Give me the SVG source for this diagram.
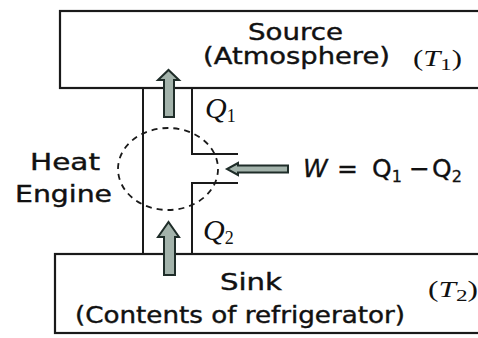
<svg xmlns="http://www.w3.org/2000/svg" width="478" height="338" viewBox="0 0 478 338">
<defs>
<style>
.box{fill:#fff;stroke:#1a1a1a;stroke-width:2.2}
.ln{fill:none;stroke:#1a1a1a;stroke-width:2}
.dash{fill:none;stroke:#1a1a1a;stroke-width:1.8;stroke-dasharray:6 5}
.arr{fill:#a3b3ab;stroke:#1f2d29;stroke-width:2;stroke-linejoin:miter}
.lbl{font-family:"DejaVu Sans","Liberation Sans",sans-serif;font-size:23px;fill:#111;stroke:#111;stroke-width:0.4}
.q{font-family:"Liberation Serif","DejaVu Serif",serif;font-style:italic;font-size:30px;fill:#111}
.sub{font-family:"Liberation Serif","DejaVu Serif",serif;font-style:normal;font-size:18px}
.t{font-family:"Liberation Serif","DejaVu Serif",serif;font-size:23px;fill:#111}
.eq{font-family:"DejaVu Sans","Liberation Sans",sans-serif;font-size:25px;fill:#111;stroke:#111;stroke-width:0.3}
</style>
</defs>
<rect width="478" height="338" fill="#fff"/>
<g id="source">
<rect class="box" x="60" y="11" width="430" height="77"/>
<text class="lbl" x="248" y="40" textLength="95" lengthAdjust="spacingAndGlyphs" font-size="22">Source</text>
<text class="lbl" x="203" y="64" textLength="187" lengthAdjust="spacingAndGlyphs">(Atmosphere)</text>
<text class="t" x="413" y="66" textLength="49" lengthAdjust="spacingAndGlyphs">(<tspan font-style="italic">T</tspan><tspan font-size="17" dy="4">1</tspan><tspan dy="-4">)</tspan></text>
</g>
<g id="sink">
<rect class="box" x="55" y="254" width="440" height="79"/>
<text class="lbl" x="220" y="290" textLength="62" lengthAdjust="spacingAndGlyphs">Sink</text>
<text class="lbl" x="75" y="323" textLength="330" lengthAdjust="spacingAndGlyphs">(Contents of refrigerator)</text>
<text class="t" x="428" y="297" textLength="50" lengthAdjust="spacingAndGlyphs">(<tspan font-style="italic">T</tspan><tspan font-size="17" dy="4">2</tspan><tspan dy="-4">)</tspan></text>
</g>
<g id="engine">
<path class="ln" d="M143 88 V254 M192 88 V154 H238 M238 183 H192 V254"/>
<ellipse class="dash" cx="168" cy="169" rx="50" ry="41"/>
<text class="lbl" x="30" y="170" textLength="70" lengthAdjust="spacingAndGlyphs" font-size="24">Heat</text>
<text class="lbl" x="15" y="202" textLength="97" lengthAdjust="spacingAndGlyphs" font-size="24">Engine</text>
</g>
<g id="connectors">
<path class="arr" d="M164 117 V80 H158 L168.5 70 L179 80 H174 V117 Z"/>
<path class="arr" d="M164 275 V237 H158 L168.5 222 L179 237 H175 V275 Z"/>
<path class="arr" d="M288 165.5 H238 V163 L227 169 L238 175 V172.5 H288 Z"/>
<text class="q" x="205" y="118">Q<tspan class="sub" dy="4">1</tspan></text>
<text class="q" x="203" y="240">Q<tspan class="sub" dy="4">2</tspan></text>
<text class="eq" y="177"><tspan x="303" font-style="italic">W</tspan><tspan x="337">=</tspan><tspan x="372">Q</tspan><tspan font-size="16" dy="5">1</tspan><tspan x="409" dy="-5">−</tspan><tspan x="432">Q</tspan><tspan font-size="16" dy="5">2</tspan></text>
</g>
</svg>
